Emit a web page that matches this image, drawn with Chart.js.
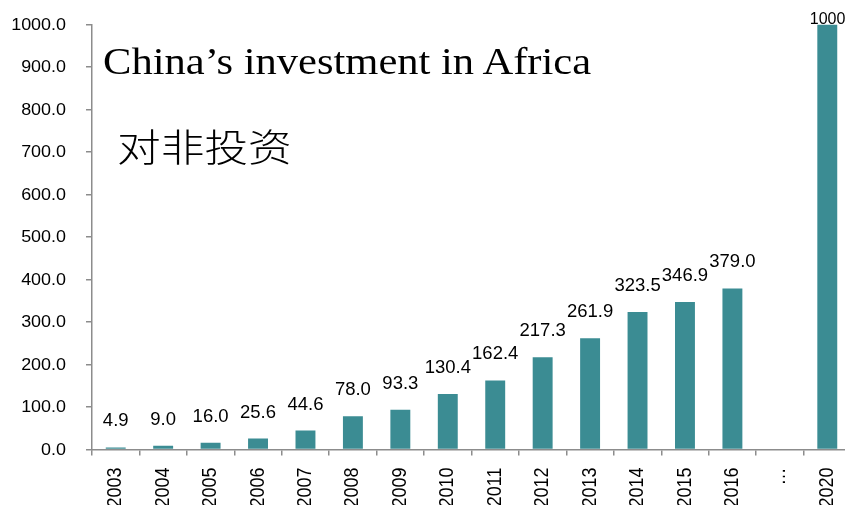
<!DOCTYPE html>
<html>
<head>
<meta charset="utf-8">
<script src="https://cdn.jsdelivr.net/npm/chart.js@4"></script>
<style>
  html, body { margin: 0; padding: 0; background: #fff; overflow: hidden; }
  #wrap { position: relative; width: 862px; height: 505px; }
  .cap { position: absolute; white-space: nowrap; color: #000; transform-origin: 0 0; transform: scaleX(1.15); }
  #t1 { left: 103px; top: 40px; font: 37px "Liberation Serif", "Times New Roman", serif; }
  #t2 { left: 117px; top: 117px; font: 300 38px "Noto Sans CJK SC", sans-serif; }
</style>
</head>
<body>
<div id="wrap">
  <canvas id="chart" width="862" height="505"></canvas>
  <div class="cap" id="t1">China’s investment in Africa</div>
  <div class="cap" id="t2">对非投资</div>
</div>
<script>
const years = ['2003', '2004', '2005', '2006', '2007', '2008', '2009', '2010',
               '2011', '2012', '2013', '2014', '2015', '2016', '…', '2020'];
const investment = [4.9, 9.0, 16.0, 25.6, 44.6, 78.0, 93.3, 130.4,
                    162.4, 217.3, 261.9, 323.5, 346.9, 379.0, null, 1000.0];
const yTicks = [0, 100, 200, 300, 400, 500, 600, 700, 800, 900, 1000];

const BAR = '#3b8c93';
const AXIS = '#8c8c8c';
const FONT = '"Liberation Sans", Arial, sans-serif';
const STRETCH = 1.12; // подписи в оригинале немного растянуты по горизонтали

// подписи осей (растянутые)
const axisLabels = {
    id: 'axisLabels',
    afterDraw(chart) {
        const ctx = chart.ctx;
        const xs = chart.scales.x;
        const ys = chart.scales.y;
        ctx.save();
        ctx.fillStyle = '#000';

        // ось Y
        ctx.font = '16px ' + FONT;
        ctx.textAlign = 'right';
        ctx.textBaseline = 'middle';
        yTicks.forEach(v => {
            const y = ys.getPixelForValue(v) + 1;
            ctx.save();
            ctx.translate(66, y);
            ctx.scale(STRETCH, 1);
            ctx.fillText(v.toFixed(1), 0, 0);
            ctx.restore();
        });

        // ось X, повернуто на 90°
        ctx.font = '18px ' + FONT;
        ctx.textAlign = 'right';
        ctx.textBaseline = 'middle';
        years.forEach((lbl, i) => {
            const x = xs.getPixelForValue(i);
            ctx.save();
            ctx.translate(x, xs.top + 18);
            ctx.scale(STRETCH, 1);
            ctx.rotate(-Math.PI / 2);
            ctx.fillText(lbl, 0, 0);
            ctx.restore();
        });
        ctx.restore();
    }
};

// подписи значений над столбцами
const valueLabels = {
    id: 'valueLabels',
    afterDatasetsDraw(chart) {
        const ctx = chart.ctx;
        const meta = chart.getDatasetMeta(0);
        ctx.save();
        ctx.fillStyle = '#000';
        ctx.textAlign = 'center';
        ctx.textBaseline = 'alphabetic';
        meta.data.forEach((bar, i) => {
            const v = investment[i];
            if (v === null) return;
            let y = bar.y - 21;
            let x = bar.x;
            ctx.font = '18.5px ' + FONT;
            if (y - 14 < 0) {
                // не помещается сверху
                y = bar.y - 1;
                x = bar.x + 7;
                ctx.font = '16px ' + FONT;
            }
            ctx.fillText(v.toFixed(1), x, y);
        });
        ctx.restore();
    }
};

const ctx = document.getElementById('chart').getContext('2d');
new Chart(ctx, {
    type: 'bar',
    data: {
        labels: years,
        datasets: [{
            data: investment,
            backgroundColor: BAR,
            borderWidth: 0,
            barPercentage: 0.42,
            categoryPercentage: 1
        }]
    },
    options: {
        animation: false,
        responsive: false,
        layout: { padding: { top: 24.5, right: 11, left: 0, bottom: 0 } },
        plugins: {
            legend: { display: false },
            tooltip: { enabled: false }
        },
        scales: {
            x: {
                offset: true,
                grid: { display: true, drawOnChartArea: false, offset: true, tickLength: 6, color: AXIS, lineWidth: 1.5 },
                border: { color: AXIS, width: 1.5 },
                ticks: { display: false, autoSkip: false },
                afterFit(scale) { scale.height = 55.5; }
            },
            y: {
                min: 0, max: 1000,
                afterBuildTicks(scale) { scale.ticks = yTicks.map(v => ({ value: v })); },
                grid: { display: true, drawOnChartArea: false, tickLength: 6, color: AXIS, lineWidth: 1.5 },
                border: { color: AXIS, width: 1.5 },
                ticks: { display: false },
                afterFit(scale) { scale.width = 92; }
            }
        }
    },
    plugins: [valueLabels, axisLabels]
});
</script>
</body>
</html>
